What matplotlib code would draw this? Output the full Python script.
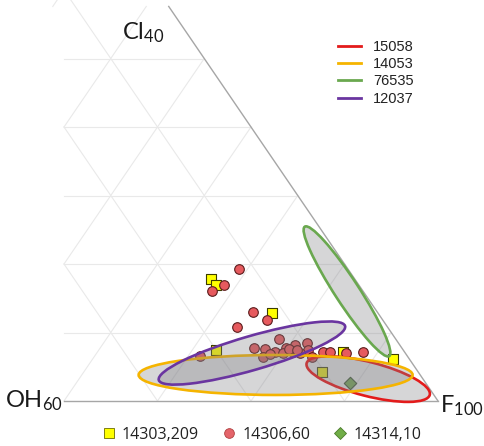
import matplotlib
matplotlib.use("Agg")
import matplotlib.pyplot as plt
from matplotlib.patches import Ellipse
from matplotlib.lines import Line2D

# apatite compositions: (OH, Cl) in the scaled triangle F100-OH60-Cl40
sq_oh = [23.1, 22.8, 17.1, 30.0, 9.9, 2.5, 15.4]
sq_cl = [8.9, 8.5, 6.4, 3.7, 3.6, 3.1, 2.1]

ci_oh = [17.5, 21.6, 24.2, 19.9, 18.6, 24.1, 33.3, 23.6, 22.1, 18.7, 20.8, 18.6, 16.8,
         17.8, 14.7, 15.3, 23.3, 21.9, 19.6, 16.9, 15.4, 13.1, 12.0, 9.5, 6.7, 18.2, 17.0]
ci_cl = [9.6, 8.5, 8.0, 6.5, 5.9, 5.4, 3.3, 3.9, 3.8, 4.5, 3.6, 3.9, 4.1,
         3.6, 4.2, 3.7, 3.2, 3.4, 3.5, 3.5, 3.2, 3.6, 3.6, 3.5, 3.6, 3.8, 3.7]

di_oh = [12.2]
di_cl = [1.3]

# field ellipses: centre (OH, Cl), semi axes (fraction of triangle height), angle
ell_names = ["15058", "14053", "76535", "12037"]
ell_colors = ["#e31b1b", "#f5b400", "#6aa84f", "#6a35a0"]
ell_oh = [8.8, 23.2, 2.6, 24.6]
ell_cl = [1.6, 1.9, 8.0, 3.5]
ell_a = [0.116, 0.250, 0.141, 0.177]
ell_b = [0.031, 0.0365, 0.022, 0.031]
ell_ang = [-14.4, 0.0, -56.9, 16.2]

sample_names = ["14303,209", "14306,60", "14314,10"]

W = 374 / 548  # width / height of the drawn triangle


def tern(oh, cl):
    oh = list(oh) if hasattr(oh, "__len__") else [oh]
    cl = list(cl) if hasattr(cl, "__len__") else [cl]
    xs = [W * (1 - o / 60 - c / 40) for o, c in zip(oh, cl)]
    ys = [c / 40 for c in cl]
    return xs, ys


fig = plt.figure(figsize=(4.84, 4.46), dpi=100)
ax = fig.add_axes([0, 0, 1, 1])
ax.set_xlim(-64 / 548, 420 / 548)
ax.set_ylim(-45 / 548, 401 / 548)
ax.axis("off")

top = 0.72
grid_kw = dict(color="#e9e9e9", lw=0.8, zorder=0)
# horizontal lines (constant Cl)
for k in range(1, 6):
    y = k / 8
    ax.plot([0, W * (1 - y)], [y, y], **grid_kw)
# lines parallel to the F-Cl edge
for c in [0.25, 0.5, 0.75]:
    ax.plot([0, W * c], [c, 0], **grid_kw)
# lines rising to the right
for d in [-0.75, -0.5, -0.25, 0, 0.25, 0.5, 0.75]:
    x0, y0 = (0, -d) if d < 0 else (d, 0)
    x1, y1 = (1 + d) / 2, (1 - d) / 2
    if y1 > top:
        x1, y1 = x0 + (top - y0), top
    ax.plot([W * x0, W * x1], [y0, y1], **grid_kw)

# triangle edges
ax.plot([0, W], [0, 0], color="#a6a6a6", lw=1, zorder=1)
ax.plot([W, W * (1 - top)], [0, top], color="#a6a6a6", lw=1, zorder=1)

# samples
x, y = tern(sq_oh, sq_cl)
ax.scatter(x, y, marker="s", s=52, c="#ffff00", edgecolors="#3d3d00", linewidths=0.8, zorder=3)
x, y = tern(ci_oh, ci_cl)
ax.scatter(x, y, marker="o", s=48, c="#e65a5e", edgecolors="#5a1c1c", linewidths=0.8, zorder=3)
x, y = tern(di_oh, di_cl)
ax.scatter(x, y, marker="D", s=40, c="#70ad47", edgecolors="#2d4a1e", linewidths=0.8, zorder=3)

# ellipses on top, translucent grey
for oh, cl, a, b, ang, col in zip(ell_oh, ell_cl, ell_a, ell_b, ell_ang, ell_colors):
    (cx,), (cy,) = tern(oh, cl)
    ax.add_patch(Ellipse((cx, cy), 2 * a, 2 * b, angle=ang,
                         facecolor=(0.5, 0.5, 0.52, 0.32), edgecolor=col, lw=1.9, zorder=4))

# corner labels
lab_kw = dict(fontsize=17, family="Lato", color="#1a1a1a", va="baseline")
ax.text(58 / 548, 362 / 548, r"$\mathregular{Cl_{40}}$", ha="left", **lab_kw)
ax.text(-1 / 548, -6 / 548, r"$\mathregular{OH_{60}}$", ha="right", **lab_kw)
ax.text(376 / 548, -11 / 548, r"$\mathregular{F_{100}}$", ha="left", **lab_kw)

# legend of the ellipses
handles = [Line2D([], [], color=c, lw=2) for c in ell_colors]
leg1 = ax.legend(handles, ell_names, loc="upper left", bbox_to_anchor=(338 / 484, 1 - 40 / 446),
                 frameon=False, borderpad=0, borderaxespad=0, handlelength=1.6,
                 handletextpad=0.8, labelspacing=0.22,
                 prop=dict(family="Liberation Sans", size=10.5))
for t in leg1.get_texts():
    t.set_color("#222222")
ax.add_artist(leg1)

# legend of the samples
mk = [Line2D([], [], ls="", marker="s", ms=7, mfc="#ffff00", mec="#6b6b00", mew=0.6),
      Line2D([], [], ls="", marker="o", ms=7, mfc="#e4646a", mec="#b04040", mew=0.6),
      Line2D([], [], ls="", marker="D", ms=6, mfc="#70ad47", mec="#4a7a2a", mew=0.6)]
leg2 = ax.legend(mk, sample_names, loc="center", bbox_to_anchor=(262 / 484, 1 - 435 / 446),
                 ncol=3, frameon=False, borderpad=0, borderaxespad=0, handlelength=0.8,
                 handletextpad=0.4, columnspacing=1.5,
                 prop=dict(family="Open Sans", size=11.5))
for t in leg2.get_texts():
    t.set_color("#222222")

fig.savefig("out.png", dpi=100)
